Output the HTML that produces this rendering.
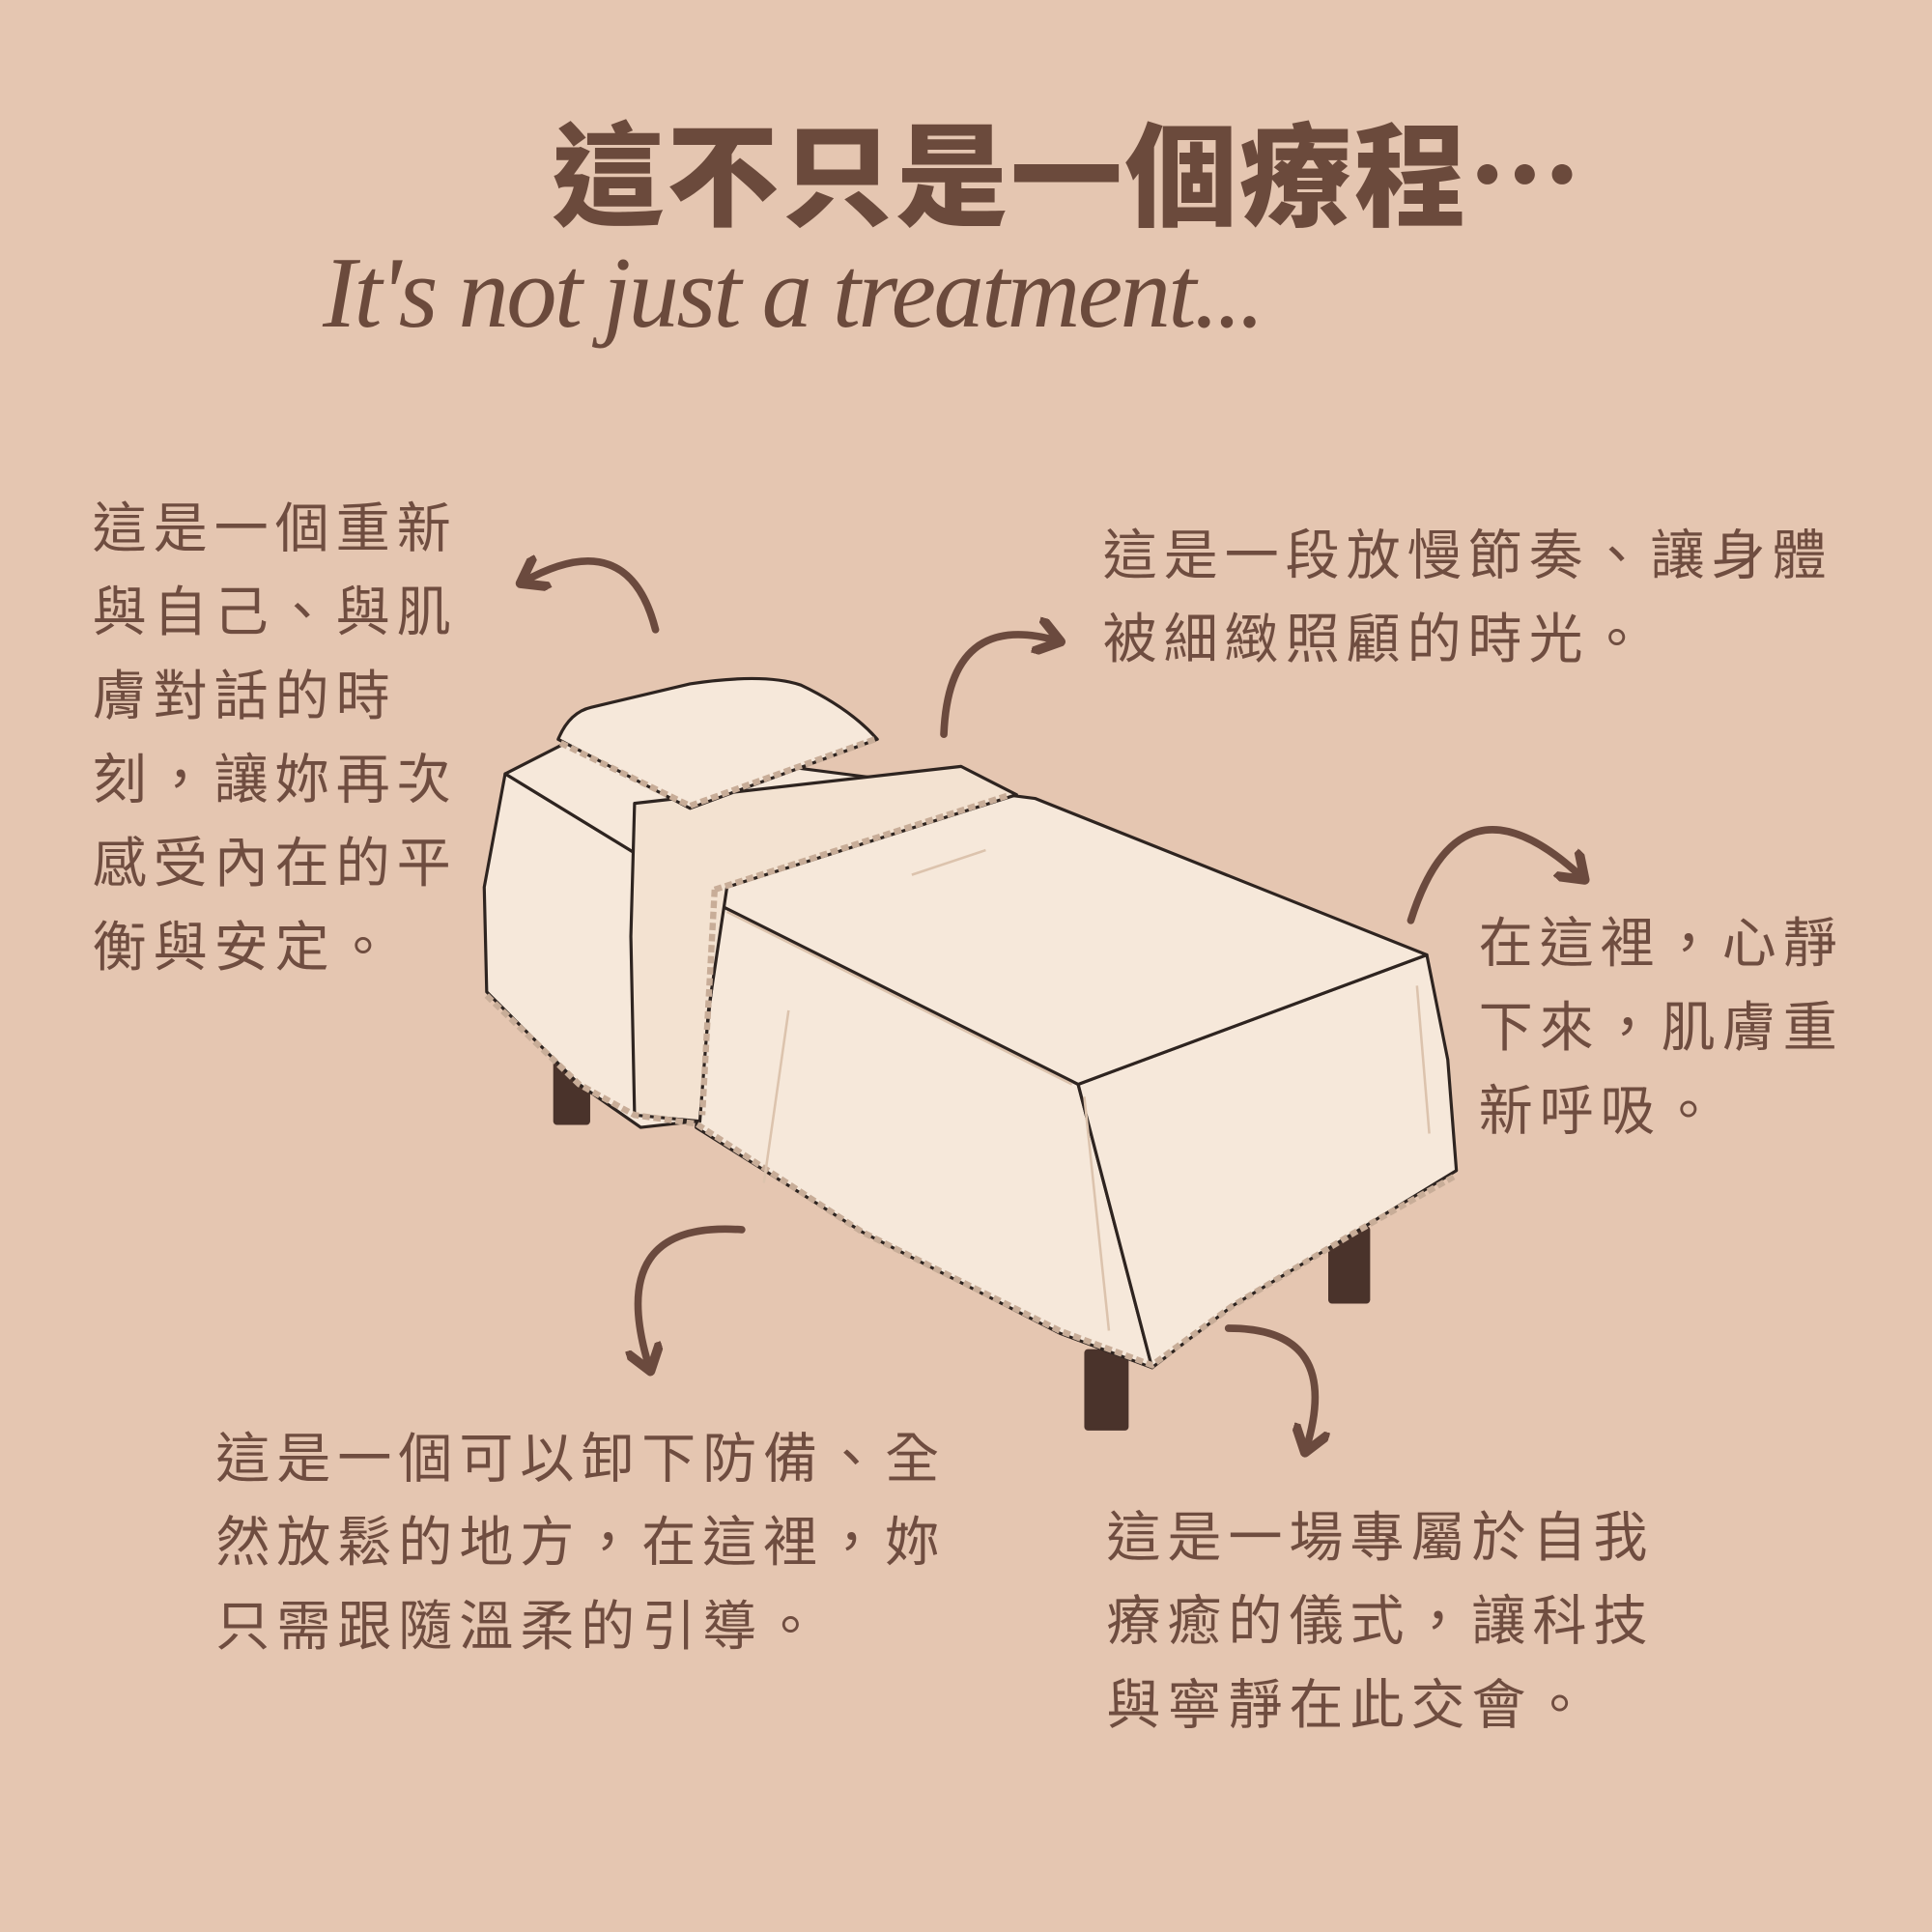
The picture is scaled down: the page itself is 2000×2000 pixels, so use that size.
<!DOCTYPE html>
<html><head><meta charset="utf-8"><style>
html,body{margin:0;padding:0;background:#e5c6b1;}
svg{display:block}
.t{font-family:"Liberation Sans","Noto Sans CJK TC",sans-serif;fill:#6f4d40;font-size:44px;letter-spacing:5.4px}
</style></head><body>
<svg width="2000" height="2000" viewBox="0 0 1568 1568" xmlns="http://www.w3.org/2000/svg">
<defs>
<marker id="ah" viewBox="0 0 10 10" refX="6" refY="5" markerWidth="5" markerHeight="5" orient="auto-start-reverse" markerUnits="strokeWidth">
<path d="M0,0 L7,5 L0,10" fill="none" stroke="#6b4a3e" stroke-width="2.6" stroke-linecap="round" stroke-linejoin="round"/>
</marker>
</defs>
<rect width="1568" height="1568" fill="#e5c6b1"/>
<text x="448" y="176" font-family="'Liberation Sans','Noto Sans CJK TC',sans-serif" font-weight="900" font-size="91" fill="#6b4a3c" letter-spacing="2">這不只是一個療程⋯</text>
<text x="262" y="265" font-family="'Liberation Serif',serif" font-style="italic" font-size="82" fill="#6b4a3c" letter-spacing="-2">It's not just a treatment...</text>

<g class="t">
<text x="75" y="444">這是一個重新</text>
<text x="75" y="512">與自己、與肌</text>
<text x="75" y="580">膚對話的時</text>
<text x="75" y="648">刻，讓妳再次</text>
<text x="75" y="716">感受內在的平</text>
<text x="75" y="784">衡與安定。</text>
<text x="895" y="466">這是一段放慢節奏、讓身體</text>
<text x="895" y="534">被細緻照顧的時光。</text>
<text x="1200" y="781">在這裡，心靜</text>
<text x="1200" y="849">下來，肌膚重</text>
<text x="1200" y="917">新呼吸。</text>
<text x="175" y="1199">這是一個可以卸下防備、全</text>
<text x="175" y="1267">然放鬆的地方，在這裡，妳</text>
<text x="175" y="1335">只需跟隨溫柔的引導。</text>
<text x="898" y="1263">這是一場專屬於自我</text>
<text x="898" y="1331">療癒的儀式，讓科技</text>
<text x="898" y="1399">與寧靜在此交會。</text>
</g>

<g fill="none" stroke="#6b4a3e" stroke-width="6" stroke-linecap="round" marker-end="url(#ah)">
<path d="M532,511 Q510,425 425,472"/>
<path d="M766,596 Q770,495 858,520"/>
<path d="M1145,747 Q1185,620 1284,712"/>
<path d="M602,998 Q490,990 527,1110"/>
<path d="M997,1078 Q1090,1078 1060,1176"/>
</g>

<g fill="#4a332b">
<rect x="449" y="835" width="30" height="78" rx="3"/>
<rect x="880" y="1095" width="36" height="66" rx="3"/>
<rect x="1078" y="995" width="34" height="63" rx="3"/>
</g>
<g stroke="#2e2420" stroke-width="2.5" stroke-linejoin="round" fill="#f6e8da">
<path d="M410,628 L585,735 L565,910 L520,915 L470,880 L430,840 L395,805 L393,720 Z"/>
<path d="M585,735 L875,880 L935,1110 L860,1082 L700,1000 L565,915 Z"/>
<path d="M875,880 L1158,775 L1175,860 L1182,950 L1100,1000 L1000,1060 L935,1110 Z"/>
<path d="M410,628 L465,600 L840,648 L1158,775 L875,880 L585,735 Z"/>
<path d="M515,652 L780,622 L825,645 L590,720 L575,820 L568,910 L515,905 L512,760 Z" fill="#f3e2d1"/>
<path d="M453,600 Q462,578 480,574 L560,555 Q620,546 650,556 Q690,575 712,600 L560,656 Z"/>
</g>
<g fill="none" stroke="#c8ad98" stroke-width="5" stroke-dasharray="6 3">
<path d="M455,603 L560,654 L710,600"/>
<path d="M580,722 L820,645"/>
<path d="M580,722 L570,905"/>
<path d="M395,808 L470,880 L515,905 L565,912 L700,1000 L860,1080 L935,1108 L1000,1060 L1100,1000 L1180,955"/>
</g>
<g fill="none" stroke="#dcc3ad" stroke-width="2">
<path d="M590,740 L870,880"/>
<path d="M880,890 L900,1080"/>
<path d="M740,710 L800,690"/>
<path d="M640,820 L620,960"/>
<path d="M1150,800 L1160,920"/>
</g>
</svg>
</body></html>
